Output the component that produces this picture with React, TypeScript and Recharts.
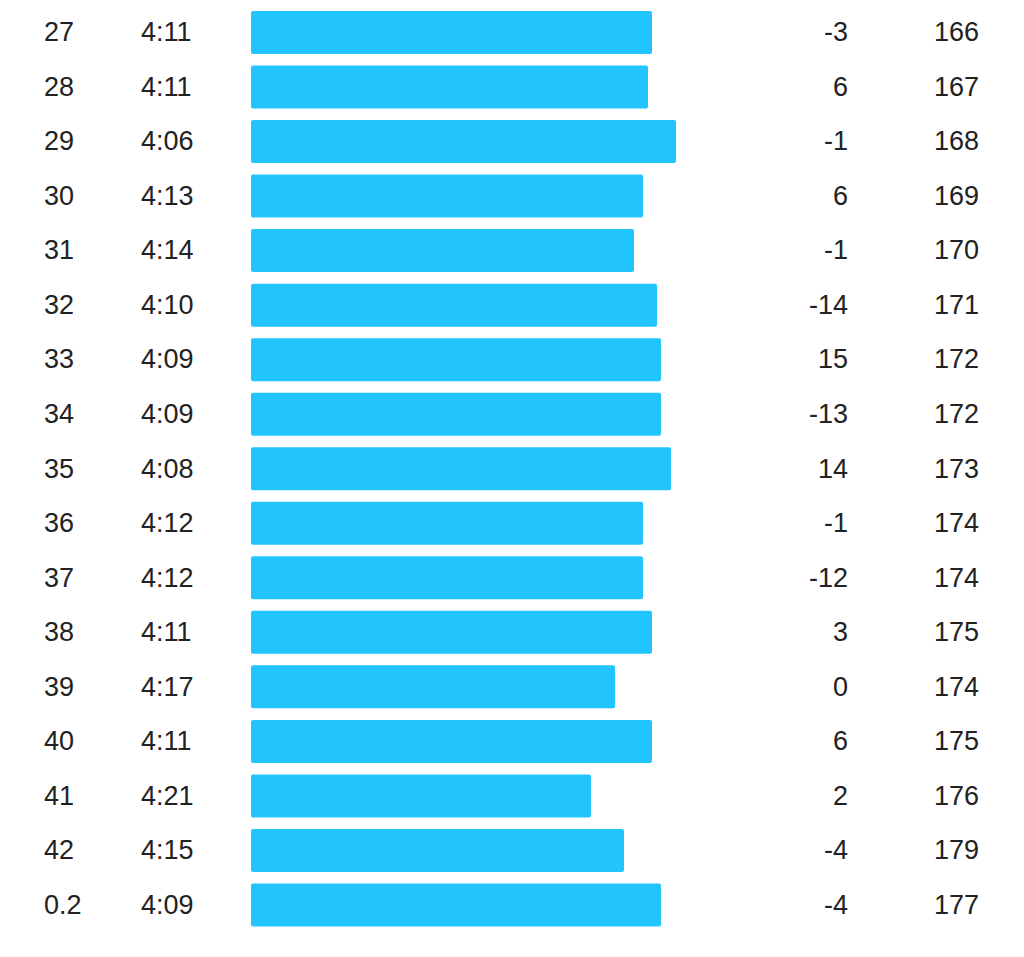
import { Bar, BarChart, XAxis, YAxis } from 'recharts'

// lap splits
const laps = ['27', '28', '29', '30', '31', '32', '33', '34', '35', '36', '37', '38', '39', '40', '41', '42', '0.2']
const paces = ['4:11', '4:11', '4:06', '4:13', '4:14', '4:10', '4:09', '4:09', '4:08', '4:12', '4:12', '4:11', '4:17', '4:11', '4:21', '4:15', '4:09']
// relative speed, 0-100
const speeds = [80.2, 79.4, 85, 78.4, 76.6, 81.2, 82, 82, 84, 78.4, 78.4, 80.2, 72.8, 80.2, 68, 74.6, 82]
const elevDiffs = [-3, 6, -1, 6, -1, -14, 15, -13, 14, -1, -12, 3, 0, 6, 2, -4, -4]
const heartRates = [166, 167, 168, 169, 170, 171, 172, 172, 173, 174, 174, 175, 174, 175, 176, 179, 177]

const data = laps.map((lap, i) => ({
  lap,
  pace: paces[i],
  speed: speeds[i],
  diff: elevDiffs[i],
  hr: heartRates[i],
}))

const FONT = '"Liberation Sans", Helvetica, Arial, sans-serif'
const TEXT = '#222'

function RowTick(props: any) {
  const { y, payload } = props
  const row = data[payload.index]
  if (!row) return null
  const common = {
    y,
    fontFamily: FONT,
    fontSize: 27,
    fill: TEXT,
    dominantBaseline: 'central' as const,
  }
  return (
    <g>
      <text {...common} x={44}>{row.lap}</text>
      <text {...common} x={141}>{row.pace}</text>
      <text {...common} x={848} textAnchor="end">{row.diff}</text>
      <text {...common} x={979} textAnchor="end">{row.hr}</text>
    </g>
  )
}

export default function App() {
  return (
    <div style={{ position: 'absolute', left: 0, top: 0, background: '#fff' }}>
      <BarChart
        width={1024}
        height={957}
        data={data}
        layout="vertical"
        margin={{ top: 5, right: 273, bottom: 25, left: 0 }}
      >
        <XAxis type="number" domain={[0, 100]} hide />
        <YAxis
          type="category"
          dataKey="lap"
          width={251}
          axisLine={false}
          tickLine={false}
          interval={0}
          tick={<RowTick />}
        />
        <Bar dataKey="speed" fill="#22c4fe" barSize={43} radius={2} isAnimationActive={false} />
      </BarChart>
    </div>
  )
}
